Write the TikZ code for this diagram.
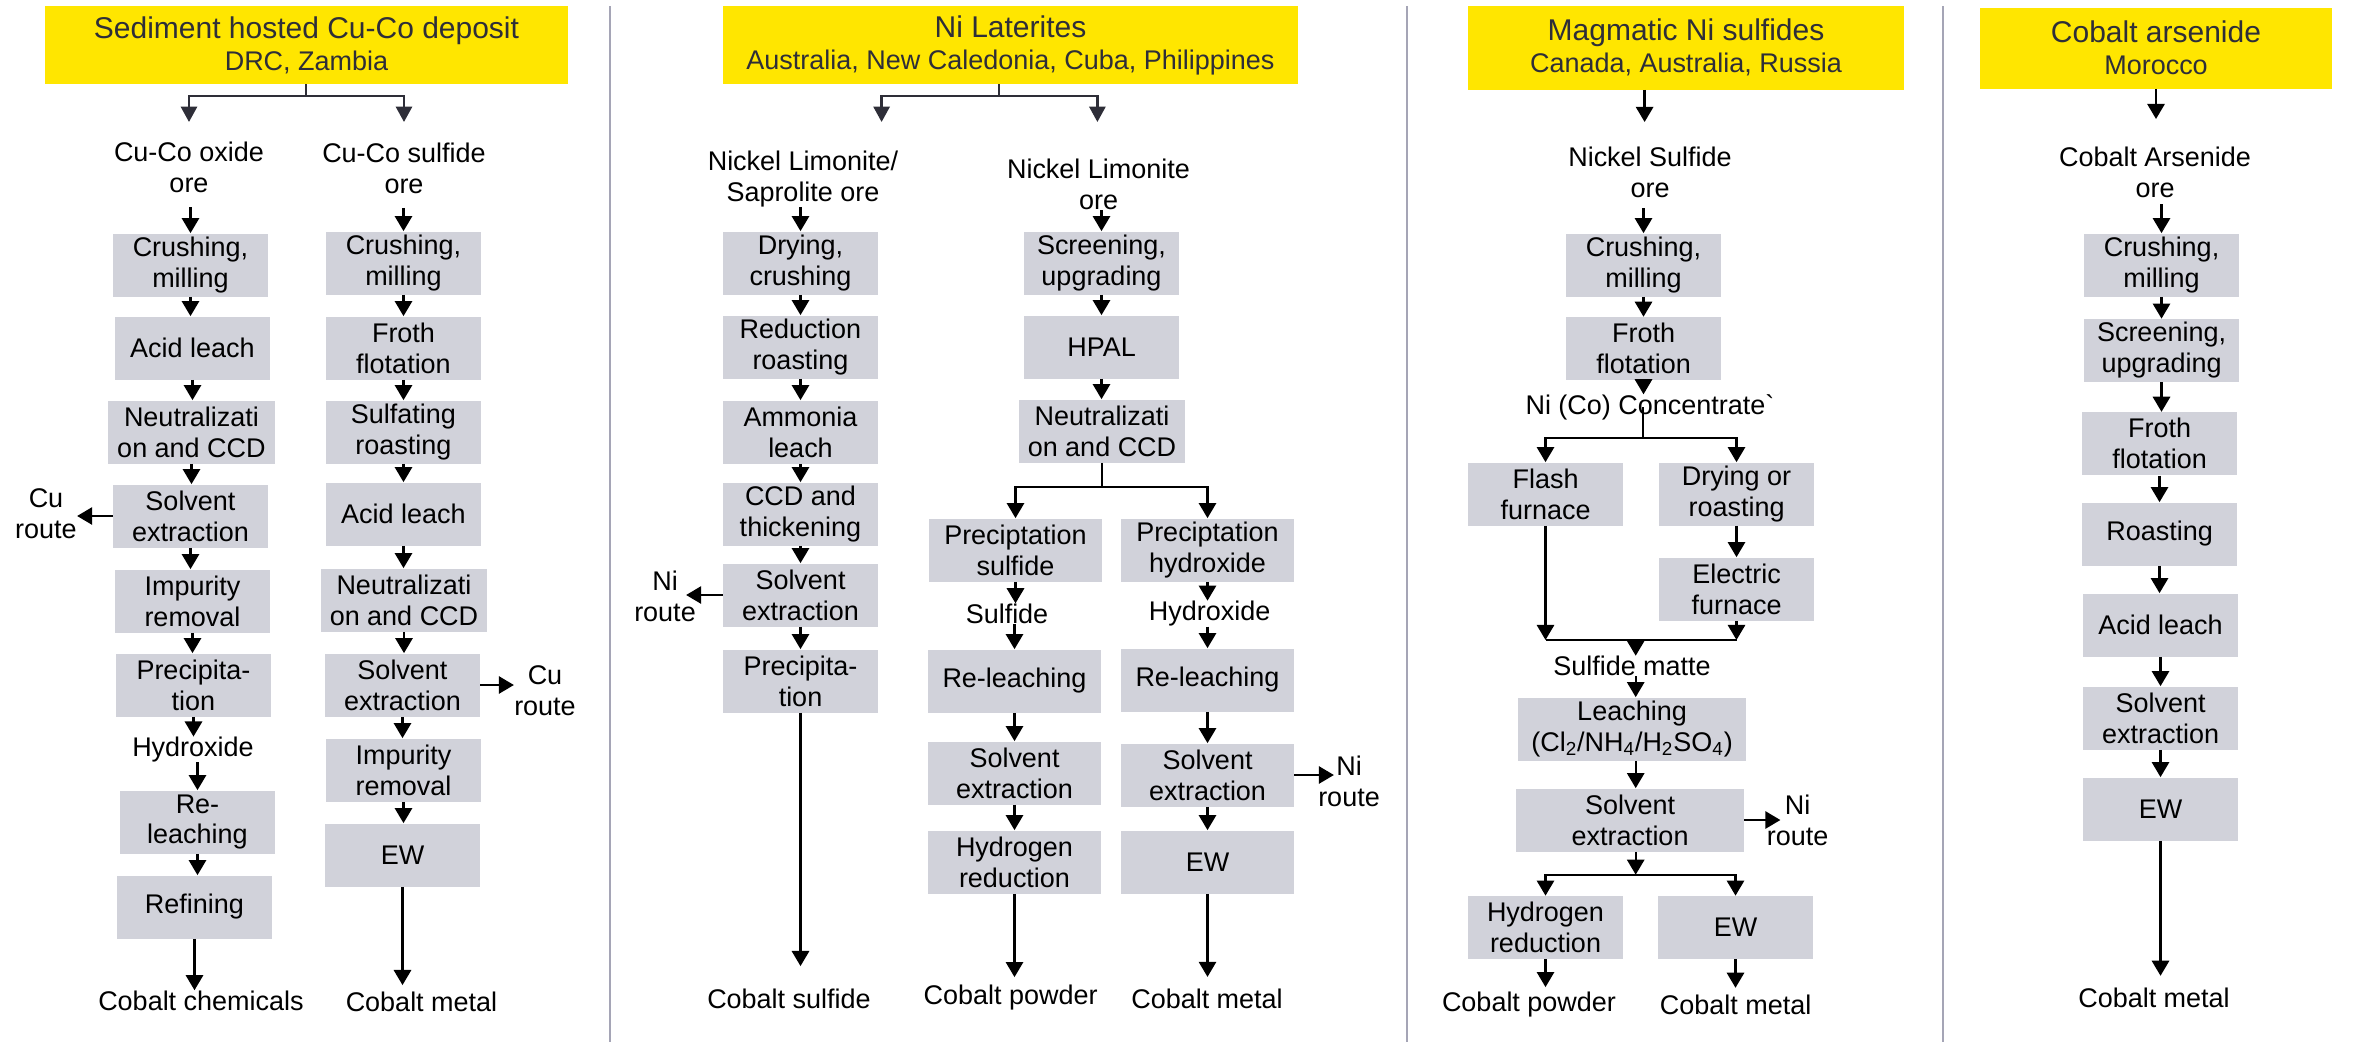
\documentclass[tikz,border=0pt]{standalone}
\usepackage{fontspec}
\setmainfont{Liberation Sans}
\usetikzlibrary{arrows.meta,calc}
\newlength\pu
\setlength\pu{0.02cm}
\definecolor{eyyellow}{RGB}{255,230,0}
\definecolor{eydark}{RGB}{46,46,56}
\definecolor{boxgray}{RGB}{209,210,218}
\definecolor{sepgray}{RGB}{165,165,182}
\newcommand\bodyfont{\fontsize{15.36pt}{17.64pt}\selectfont}
\newcommand\hdrbig{\fontsize{17.07pt}{18.2pt}\selectfont}
\newcommand\hdrsmall{\fontsize{15.36pt}{18.2pt}\selectfont}
\begin{document}
\begin{tikzpicture}[x=0.02cm,y=-0.02cm,
 every node/.style={font=\bodyfont,inner sep=0pt,align=center,text=black},
 hdr/.style={fill=eyyellow,text=eydark,font=\hdrsmall},
 stepbox/.style={fill=boxgray,minimum width=155\pu,minimum height=63\pu},
 arr/.style={draw=black,line width=1.37pt,-{Triangle[width=9.8pt,length=8.6pt]}},
 plainline/.style={draw=black,line width=1.37pt},
 harr/.style={draw=eydark,line width=1.48pt,-{Triangle[width=9.2pt,length=8.8pt]}},
 hdrline/.style={draw=eydark,line width=1.48pt},
 sepline/.style={draw=sepgray,line width=1.14pt}]
\fill[white] (0,0) rectangle (2356,1045);
\useasboundingbox (0,0) rectangle (2356,1045);
% separators
\draw[sepline] (610,6) -- (610,1042);
\draw[sepline] (1407,6) -- (1407,1042);
\draw[sepline] (1943,6) -- (1943,1042);

% ================= Column 1 =================
\node[hdr,minimum width=523\pu,minimum height=78\pu] (h1) at (306.5,45) {{\hdrbig Sediment hosted Cu-Co deposit}\\DRC, Zambia};
\coordinate (s1) at (306,96);
\coordinate (t1l) at (189,122);
\coordinate (t1r) at (404,122);
\draw[hdrline] (h1.south -| s1) -- (s1);
\draw[harr] (s1) -| (t1l);
\draw[harr] (s1) -| (t1r);

\node[outer ysep=15\pu] (c1l0) at (189,167) {Cu-Co oxide\\ore};
\node[outer ysep=14\pu] (c1r0) at (404,168.5) {Cu-Co sulfide\\ore};

\node[stepbox] (c1a1) at (190.5,265) {Crushing,\\milling};
\node[stepbox] (c1a2) at (192.5,348) {Acid leach};
\node[stepbox,minimum width=167\pu] (c1a3) at (191.5,432) {Neutralizati\\on and CCD};
\node[stepbox] (c1a4) at (190.5,516) {Solvent\\extraction};
\node (c1cu) at (46,514) {Cu\\route};
\node[stepbox] (c1a5) at (192.5,601) {Impurity\\removal};
\node[stepbox] (c1a6) at (193.5,685) {Precipita-\\tion};
\node (c1hy) at (193,749.5) {Hydroxide};
\node[stepbox] (c1a7) at (197.5,822) {Re-\\leaching};
\node[stepbox] (c1a8) at (194.5,907) {Refining};
\node (c1o) at (201,1000.5) {Cobalt chemicals};

\draw[arr] (c1a1.north |- c1l0.south) -- (c1a1.north);
\draw[arr] (c1a1.south) -- (c1a1.south |- c1a2.north);
\draw[arr] (c1a2.south) -- (c1a2.south |- c1a3.north);
\draw[arr] (c1a3.south) -- (c1a3.south |- c1a4.north);
\draw[arr] (c1a4.west) -- (c1a4.west -| c1cu.east);
\draw[arr] (c1a4.south) -- (c1a4.south |- c1a5.north);
\draw[arr] (c1a5.south) -- (c1a5.south |- c1a6.north);
\draw[arr] (c1a6.south) -- (c1a6.south |- c1hy.north);
\draw[arr] (c1a7.north |- c1hy.south) -- (c1a7.north);
\draw[arr] (c1a7.south) -- (c1a7.south |- c1a8.north);
\draw[arr] (c1a8.south) -- (c1a8.south |- c1o.north);

\node[stepbox] (c1b1) at (403.5,263) {Crushing,\\milling};
\node[stepbox] (c1b2) at (403.5,348) {Froth\\flotation};
\node[stepbox] (c1b3) at (403.5,432) {Sulfating\\roasting};
\node[stepbox] (c1b4) at (403.5,514) {Acid leach};
\node[stepbox,minimum width=166\pu] (c1b5) at (404,600) {Neutralizati\\on and CCD};
\node[stepbox] (c1b6) at (402.5,685) {Solvent\\extraction};
\node (c1cu2) at (545,691) {Cu\\route};
\node[stepbox] (c1b7) at (403.5,770) {Impurity\\removal};
\node[stepbox] (c1b8) at (402.5,855) {EW};
\node[outer ysep=7\pu] (c1o2) at (421.5,1002) {Cobalt metal};

\draw[arr] (c1b1.north |- c1r0.south) -- (c1b1.north);
\draw[arr] (c1b1.south) -- (c1b1.south |- c1b2.north);
\draw[arr] (c1b2.south) -- (c1b2.south |- c1b3.north);
\draw[arr] (c1b3.south) -- (c1b3.south |- c1b4.north);
\draw[arr] (c1b4.south) -- (c1b4.south |- c1b5.north);
\draw[arr] (c1b5.south) -- (c1b5.south |- c1b6.north);
\draw[arr] (c1b6.east) -- (c1b6.east -| c1cu2.west);
\draw[arr] (c1b6.south) -- (c1b6.south |- c1b7.north);
\draw[arr] (c1b7.south) -- (c1b7.south |- c1b8.north);
\draw[arr] (c1b8.south) -- (c1b8.south |- c1o2.north);

% ================= Column 2 =================
\node[hdr,minimum width=575\pu,minimum height=78\pu] (h2) at (1010.5,45) {{\hdrbig Ni Laterites}\\Australia, New Caledonia, Cuba, Philippines};
\coordinate (s2) at (999,96);
\coordinate (t2l) at (881.6,122);
\coordinate (t2r) at (1097.4,122);
\draw[hdrline] (h2.south -| s2) -- (s2);
\draw[harr] (s2) -| (t2l);
\draw[harr] (s2) -| (t2r);

\node (c2l0) at (803,179) {Nickel Limonite/\\Saprolite ore};
\node (c2r0) at (1098.5,184.5) {Nickel Limonite\\ore};

\node[stepbox] (c2a1) at (800.5,263) {Drying,\\crushing};
\node[stepbox] (c2a2) at (800.5,347) {Reduction\\roasting};
\node[stepbox] (c2a3) at (800.5,432) {Ammonia\\leach};
\node[stepbox] (c2a4) at (800.5,514) {CCD and\\thickening};
\node[stepbox] (c2a5) at (800.5,595) {Solvent\\extraction};
\node (c2ni) at (665,596) {Ni\\route};
\node[stepbox] (c2a6) at (800.5,681) {Precipita-\\tion};
\node[outer ysep=23\pu] (c2o1) at (789,999) {Cobalt sulfide};

\draw[arr] (c2a1.north |- c2l0.south) -- (c2a1.north);
\draw[arr] (c2a1.south) -- (c2a1.south |- c2a2.north);
\draw[arr] (c2a2.south) -- (c2a2.south |- c2a3.north);
\draw[arr] (c2a3.south) -- (c2a3.south |- c2a4.north);
\draw[arr] (c2a4.south) -- (c2a4.south |- c2a5.north);
\draw[arr] (c2a5.west) -- ($(c2a5.west -| c2ni.east)+(-10,0)$);
\draw[arr] (c2a5.south) -- (c2a5.south |- c2a6.north);
\draw[arr] (c2a6.south) -- (c2a6.south |- c2o1.north);

\node[stepbox] (c2b1) at (1101.5,263) {Screening,\\upgrading};
\node[stepbox] (c2b2) at (1101.5,347) {HPAL};
\node[stepbox,minimum width=166\pu] (c2b3) at (1102,431) {Neutralizati\\on and CCD};
\coordinate (s2b) at (1102,487);
\node[stepbox,minimum width=173\pu] (c2c1) at (1015.5,550) {Preciptation\\sulfide};
\node[stepbox,minimum width=173\pu] (c2d1) at (1207.5,550) {Preciptation\\hydroxide};
\node (c2sf) at (1007,613.6) {Sulfide};
\node (c2hy) at (1209.7,613.6) {Hydroxide};
\node[stepbox,minimum width=173\pu] (c2c2) at (1014.5,681) {Re-leaching};
\node[stepbox,minimum width=173\pu] (c2d2) at (1207.5,680) {Re-leaching};
\node[stepbox,minimum width=173\pu] (c2c3) at (1014.5,773) {Solvent\\extraction};
\node[stepbox,minimum width=173\pu] (c2d3) at (1207.5,775) {Solvent\\extraction};
\node (c2ni2) at (1349,781) {Ni\\route};
\node[stepbox,minimum width=173\pu] (c2c4) at (1014.5,862) {Hydrogen\\reduction};
\node[stepbox,minimum width=173\pu] (c2d4) at (1207.5,862) {EW};
\node[outer ysep=8\pu] (c2o2) at (1010.7,997.7) {Cobalt powder};
\node[outer ysep=12\pu] (c2o3) at (1207,998.8) {Cobalt metal};

\draw[arr] (c2b1.north |- c2r0.south) -- (c2b1.north);
\draw[arr] (c2b1.south) -- (c2b1.south |- c2b2.north);
\draw[arr] (c2b2.south) -- (c2b2.south |- c2b3.north);
\draw[plainline] (c2b3.south) -- (s2b);
\draw[arr] (s2b) -| (c2c1.north);
\draw[arr] (s2b) -| (c2d1.north);
\draw[arr] (c2c1.south) -- (c2c1.south |- c2sf.north);
\draw[arr] (c2d1.south) -- (c2d1.south |- c2hy.north);
\draw[arr] (c2c2.north |- c2sf.south) -- (c2c2.north);
\draw[arr] (c2d2.north |- c2hy.south) -- (c2d2.north);
\draw[arr] (c2c2.south) -- (c2c2.south |- c2c3.north);
\draw[arr] (c2d2.south) -- (c2d2.south |- c2d3.north);
\draw[arr] (c2d3.east) -- ($(c2d3.east -| c2ni2.west)+(16,0)$);
\draw[arr] (c2c3.south) -- (c2c3.south |- c2c4.north);
\draw[arr] (c2d3.south) -- (c2d3.south |- c2d4.north);
\draw[arr] (c2c4.south) -- (c2c4.south |- c2o2.north);
\draw[arr] (c2d4.south) -- (c2d4.south |- c2o3.north);

% ================= Column 3 =================
\node[hdr,minimum width=436\pu,minimum height=83.5\pu] (h3) at (1686,47.75) {{\hdrbig Magmatic Ni sulfides}\\Canada, Australia, Russia};
\coordinate (t3) at (1644.6,122);
\draw[arr] (h3.south -| t3) -- (t3);
\node[outer ysep=10\pu] (c3l0) at (1650,172.7) {Nickel Sulfide\\ore};
\node[stepbox] (c3a1) at (1643.5,265) {Crushing,\\milling};
\node[stepbox] (c3a2) at (1643.5,348.6) {Froth\\flotation};
\node (c3cc) at (1650,407.4) {Ni (Co) Concentrate\textasciigrave};
\coordinate (s3) at (1643,438);
\node[stepbox] (c3b1) at (1545.5,494) {Flash\\furnace};
\node[stepbox] (c3c1) at (1736.5,494) {Drying or\\roasting};
\node[stepbox] (c3c2) at (1736.5,589) {Electric\\furnace};
\coordinate (m3) at (1635.7,640);
\node (c3sm) at (1632,666) {Sulfide matte};
\node[stepbox,minimum width=228\pu] (c3d1) at (1632,729) {Leaching\\(Cl\textsubscript{2}/NH\textsubscript{4}/H\textsubscript{2}SO\textsubscript{4})};
\node[stepbox,minimum width=228\pu] (c3d2) at (1630,820) {Solvent\\extraction};
\node (c3ni) at (1797.5,820) {Ni\\route};
\coordinate (s3b) at (1635.7,874.7);
\node[stepbox] (c3e1) at (1545.5,927.5) {Hydrogen\\reduction};
\node[stepbox] (c3e2) at (1735.5,927.5) {EW};
\node[outer ysep=5\pu] (c3o1) at (1529,1004.7) {Cobalt powder};
\node[outer ysep=7\pu] (c3o2) at (1735.7,1004.7) {Cobalt metal};

\draw[arr] (c3a1.north |- c3l0.south) -- (c3a1.north);
\draw[arr] (c3a1.south) -- (c3a1.south |- c3a2.north);
\draw[arr] (c3a2.south) -- (c3a2.south |- c3cc.north);
\draw[plainline] (c3cc.center -| s3) -- (s3);
\draw[arr] (s3) -| (c3b1.north);
\draw[arr] (s3) -| (c3c1.north);
\draw[arr] (c3c1.south) -- (c3c1.south |- c3c2.north);
\draw[arr] (c3b1.south) -- (c3b1.south |- m3);
\draw[arr] (c3c2.south) -- (c3c2.south |- m3);
\draw[plainline] (c3b1.south |- m3) -- (c3c2.south |- m3);
\draw[arr] (m3) -- (m3 |- c3sm.north);
\draw[arr] (m3 |- c3sm.south) -- (m3 |- c3d1.north);
\draw[arr] (m3 |- c3d1.south) -- (m3 |- c3d2.north);
\draw[arr] (c3d2.east) -- ($(c3d2.east -| c3ni.west)+(14,0)$);
\draw[arr] (s3b |- c3d2.south) -- (s3b);
\draw[arr] (s3b) -| (c3e1.north);
\draw[arr] (s3b) -| (c3e2.north);
\draw[arr] (c3e1.south) -- (c3e1.south |- c3o1.north);
\draw[arr] (c3e2.south) -- (c3e2.south |- c3o2.north);

% ================= Column 4 =================
\node[hdr,minimum width=352\pu,minimum height=80.5\pu] (h4) at (2156,48.25) {{\hdrbig Cobalt arsenide}\\Morocco};
\coordinate (t4) at (2156,119);
\draw[arr] (h4.south) -- (t4);
\node[outer ysep=6\pu] (c4l0) at (2155,172.7) {Cobalt Arsenide\\ore};
\node[stepbox] (c4a1) at (2161.5,265) {Crushing,\\milling};
\node[stepbox] (c4a2) at (2161.5,350.5) {Screening,\\upgrading};
\node[stepbox] (c4a3) at (2159.5,443.7) {Froth\\flotation};
\node[stepbox] (c4a4) at (2159.5,534) {Roasting};
\node[stepbox] (c4a5) at (2160.5,625) {Acid leach};
\node[stepbox] (c4a6) at (2160.5,718) {Solvent\\extraction};
\node[stepbox] (c4a7) at (2160.5,809) {EW};
\node[outer ysep=12\pu] (c4o) at (2154,997.7) {Cobalt metal};

\draw[arr] (c4a1.north |- c4l0.south) -- (c4a1.north);
\draw[arr] (c4a1.south) -- (c4a1.south |- c4a2.north);
\draw[arr] (c4a2.south) -- (c4a2.south |- c4a3.north);
\draw[arr] (c4a3.south) -- (c4a3.south |- c4a4.north);
\draw[arr] (c4a4.south) -- (c4a4.south |- c4a5.north);
\draw[arr] (c4a5.south) -- (c4a5.south |- c4a6.north);
\draw[arr] (c4a6.south) -- (c4a6.south |- c4a7.north);
\draw[arr] (c4a7.south) -- (c4a7.south |- c4o.north);
\end{tikzpicture}
\end{document}
